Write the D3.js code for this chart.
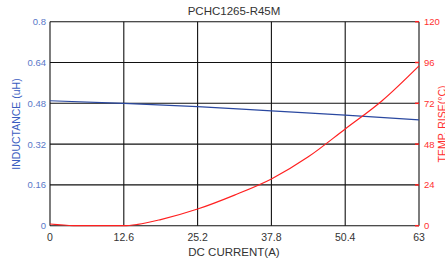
<!DOCTYPE html>
<html>
<head>
<meta charset="utf-8">
<script src="https://cdn.jsdelivr.net/npm/d3@7"></script>
<style>
  body { margin: 0; background: #fff; }
  text { font-family: Arial, "Liberation Sans", sans-serif; }
</style>
</head>
<body>
<svg id="chart" width="445" height="261"></svg>
<script>
// data
var current = [0, 4, 8, 12.6, 15, 18.9, 25.2, 31.5, 37.8, 44.1, 50.4, 56.7, 63];
var temp = [1, 0.1, 0, 0, 0.8, 3.6, 9.8, 18, 27.5, 40.5, 56.9, 73.5, 94];
var indCurrent = [0, 12.6, 25.2, 37.8, 50.4, 63];
var inductance = [0.49, 0.48, 0.467, 0.45, 0.434, 0.415];
var xTicks = [0, 12.6, 25.2, 37.8, 50.4, 63];
var yTicks = [0, 0.16, 0.32, 0.48, 0.64, 0.8];
var tTicks = [0, 24, 48, 72, 96, 120];

(function chart() {
    var svg = d3.select("#chart");
    var pLeft = 50, pRight = 419, pTop = 21.7, pBottom = 225.7;

    var x = d3.scaleLinear().domain([0, 63]).range([pLeft, pRight]);
    var y = d3.scaleLinear().domain([0, 0.8]).range([pBottom, pTop]);
    var yT = d3.scaleLinear().domain([0, 120]).range([pBottom, pTop]);

    // grid
    svg.append("g").selectAll("line")
        .data(xTicks)
        .enter().append("line")
        .attr("x1", function (d) { return x(d); })
        .attr("x2", function (d) { return x(d); })
        .attr("y1", pTop)
        .attr("y2", pBottom)
        .attr("stroke", "#111")
        .attr("stroke-width", 1.1);

    svg.append("g").selectAll("line")
        .data(yTicks)
        .enter().append("line")
        .attr("x1", pLeft)
        .attr("x2", pRight)
        .attr("y1", function (d) { return y(d); })
        .attr("y2", function (d) { return y(d); })
        .attr("stroke", "#111")
        .attr("stroke-width", 1.1);

    // red ticks on right side
    svg.append("g").selectAll("line")
        .data(tTicks)
        .enter().append("line")
        .attr("x1", pRight - 4)
        .attr("x2", pRight)
        .attr("y1", function (d) { return yT(d); })
        .attr("y2", function (d) { return yT(d); })
        .attr("stroke", "#ff2020")
        .attr("stroke-width", 1.5);

    // left labels
    svg.append("g").selectAll("text")
        .data(yTicks)
        .enter().append("text")
        .attr("x", 46)
        .attr("y", function (d) { return y(d) + 3.5; })
        .attr("text-anchor", "end")
        .attr("fill", "#5a78c8")
        .style("font-size", "9.5px")
        .text(function (d) { return d; });

    // right labels
    svg.append("g").selectAll("text")
        .data(tTicks)
        .enter().append("text")
        .attr("x", 424)
        .attr("y", function (d) { return yT(d) + 3.5; })
        .attr("fill", "#ff3030")
        .style("font-size", "9.5px")
        .text(function (d) { return d; });

    // bottom labels
    svg.append("g").selectAll("text")
        .data(xTicks)
        .enter().append("text")
        .attr("x", function (d) { return x(d); })
        .attr("y", 241)
        .attr("text-anchor", "middle")
        .attr("fill", "#333")
        .style("font-size", "10.5px")
        .text(function (d) { return d; });

    // titles
    svg.append("text")
        .attr("x", 234)
        .attr("y", 15)
        .attr("text-anchor", "middle")
        .attr("fill", "#333")
        .style("font-size", "11.5px")
        .text("PCHC1265-R45M");

    svg.append("text")
        .attr("x", 234)
        .attr("y", 256)
        .attr("text-anchor", "middle")
        .attr("fill", "#333")
        .style("font-size", "11.5px")
        .text("DC CURRENT(A)");

    svg.append("text")
        .attr("transform", "translate(20,124) rotate(-90)")
        .attr("text-anchor", "middle")
        .attr("fill", "#3a5cc0")
        .style("font-size", "10.5px")
        .text("INDUCTANCE (uH)");

    svg.append("text")
        .attr("transform", "translate(446,124) rotate(-90)")
        .attr("text-anchor", "middle")
        .attr("fill", "#ff3030")
        .style("font-size", "10.5px")
        .text("TEMP. RISE(°C)");

    // curves
    var indLine = d3.line()
        .x(function (d, i) { return x(indCurrent[i]); })
        .y(function (d) { return y(d); })
        .curve(d3.curveMonotoneX);

    svg.append("path")
        .datum(inductance)
        .attr("d", indLine)
        .attr("fill", "none")
        .attr("stroke", "#2a48a0")
        .attr("stroke-width", 1.2);

    var tempLine = d3.line()
        .x(function (d, i) { return x(current[i]); })
        .y(function (d) { return yT(d); })
        .curve(d3.curveMonotoneX);

    svg.append("path")
        .datum(temp)
        .attr("d", tempLine)
        .attr("fill", "none")
        .attr("stroke", "#ff2020")
        .attr("stroke-width", 1.2);
}());
</script>
</body>
</html>
